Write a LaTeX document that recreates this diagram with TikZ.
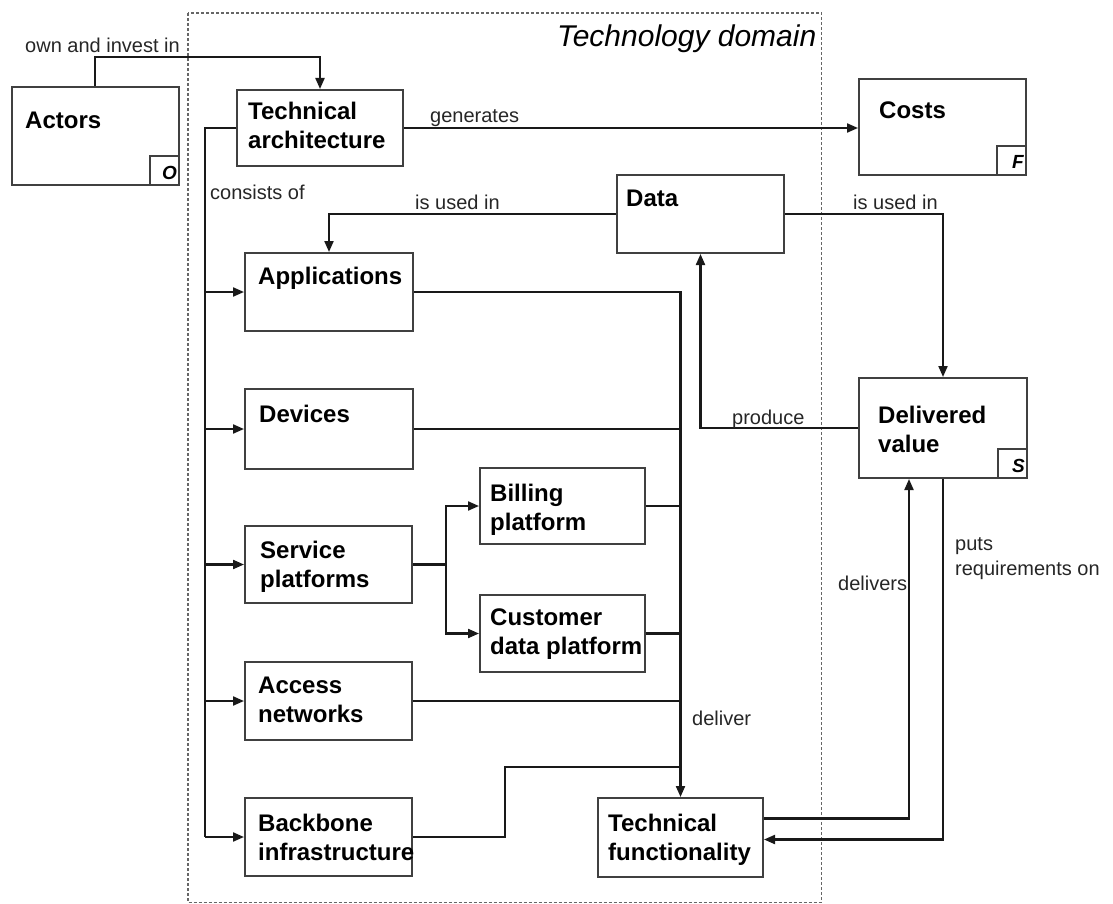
\documentclass[tikz,border=0pt]{standalone}
\usepackage{fontspec}
\setmainfont{Liberation Sans}
\usetikzlibrary{arrows.meta}

\begin{document}
\begin{tikzpicture}[x=1pt,y=-1pt,
  box/.style={draw=black!75, line width=2pt, fill=white, inner sep=0, anchor=north west},
  boxtext/.style={font=\fontsize{24}{29}\selectfont\bfseries, anchor=north west, align=left, inner sep=0},
  lbl/.style={font=\fontsize{20}{25}\selectfont, anchor=base west, inner sep=0, align=left, text=black!85},
  corner/.style={font=\fontsize{19}{19}\selectfont\bfseries\itshape, anchor=base east, inner sep=0},
  cornerbox/.style={draw=black!75, line width=2pt, fill=white, inner sep=0, minimum size=29pt, anchor=south east},
  conn/.style={line width=2.1pt, draw=black!90},
  arr/.style={conn, -{Triangle[length=11pt,width=9pt]}},
  domainframe/.style={draw=black!60, line width=1.7pt, dash pattern=on 3pt off 2pt}
]
\useasboundingbox (0,0) rectangle (1113,904);

% technology domain frame
\node[draw=none, inner sep=0, minimum width=633pt, minimum height=889pt, anchor=north west] (dom) at (188,13) {};
\draw[domainframe] (dom.north west) rectangle (dom.south east);
\node[font=\fontsize{30}{30}\selectfont\itshape, anchor=base west, inner sep=0] (domtitle) at (557,47) {Technology domain};

% boxes
\node[box, minimum width=167pt, minimum height=98pt] (actors) at (11,86) {};
\node[box, minimum width=166pt, minimum height=76pt] (ta) at (236,89) {};
\node[box, minimum width=167pt, minimum height=96pt] (costs) at (858,78) {};
\node[box, minimum width=167pt, minimum height=78pt] (data) at (616,174) {};
\node[box, minimum width=168pt, minimum height=78pt] (app) at (244,252) {};
\node[box, minimum width=168pt, minimum height=80pt] (dev) at (244,388) {};
\node[box, minimum width=167pt, minimum height=77pt] (sp) at (244,525) {};
\node[box, minimum width=165pt, minimum height=76pt] (bill) at (479,467) {};
\node[box, minimum width=165pt, minimum height=77pt] (cust) at (479,594) {};
\node[box, minimum width=167pt, minimum height=78pt] (acc) at (244,661) {};
\node[box, minimum width=167pt, minimum height=78pt] (bb) at (244,797) {};
\node[box, minimum width=165pt, minimum height=79pt] (tf) at (597,797) {};
\node[box, minimum width=168pt, minimum height=100pt] (dv) at (858,377) {};

% corner tags
\node[cornerbox] (actors-c) at (actors.south east) {};
\node[corner] (actors-l) at ([shift={(-3,-7)}]actors.south east) {O};
\node[cornerbox] (costs-c) at (costs.south east) {};
\node[corner] (costs-l) at ([shift={(-3,-7)}]costs.south east) {F};
\node[cornerbox] (dv-c) at (dv.south east) {};
\node[corner] (dv-l) at ([shift={(-3,-7)}]dv.south east) {S};

% box texts
\node[boxtext] (actors-t) at ([shift={(14,26)}]actors.north west) {Actors};
\node[boxtext] (ta-t) at ([shift={(12,13)}]ta.north west) {Technical\\architecture};
\node[boxtext] (costs-t) at ([shift={(21,24)}]costs.north west) {Costs};
\node[boxtext] (data-t) at ([shift={(10,16)}]data.north west) {Data};
\node[boxtext] (app-t) at ([shift={(14,15)}]app.north west) {Applications};
\node[boxtext] (dev-t) at ([shift={(15,17)}]dev.north west) {Devices};
\node[boxtext] (sp-t) at ([shift={(16,16)}]sp.north west) {Service\\platforms};
\node[boxtext] (bill-t) at ([shift={(11,17)}]bill.north west) {Billing\\platform};
\node[boxtext] (cust-t) at ([shift={(11,15)}]cust.north west) {Customer\\data platform};
\node[boxtext] (acc-t) at ([shift={(14,16)}]acc.north west) {Access\\networks};
\node[boxtext] (bb-t) at ([shift={(14,17)}]bb.north west) {Backbone\\infrastructure};
\node[boxtext] (tf-t) at ([shift={(11,17)}]tf.north west) {Technical\\functionality};
\node[boxtext] (dv-t) at ([shift={(20,29)}]dv.north west) {Delivered\\value};

% actors own the technical architecture
\draw[arr] ([xshift=84pt]actors.north west) -- ++(0,-29) -| (ta.north);
\node[lbl] (l-own) at (25,53) {own and invest in};

% costs
\draw[arr] (ta.east) -- (ta.east -| costs.west);
\node[lbl] (l-gen) at (430,123) {generates};

% composition bus
\coordinate (bus) at ([xshift=-31pt]ta.west);
\draw[conn] (ta.west) -- (bus) -- (bus |- bb.west);
\draw[arr] (bus |- app.west) -- (app.west);
\draw[arr] (bus |- dev.west) -- (dev.west);
\draw[arr] (bus |- sp.west) -- (sp.west);
\draw[arr] (bus |- acc.west) -- (acc.west);
\draw[arr] (bus |- bb.west) -- (bb.west);
\node[lbl] (l-cons) at (210,200) {consists of};

% service platforms split
\coordinate (sj) at ([xshift=33pt]sp.east);
\draw[conn, line width=2.8pt] (sp.east) -- (sj);
\draw[arr] (sj) |- (bill.west);
\draw[arr] (sj) |- (cust.west);

% data usage
\draw[arr] (data.west) -| (app.north);
\node[lbl] (l-used1) at (415,209) {is used in};
\draw[arr] (data.east) -| (dv.north);
\node[lbl] (l-used2) at (853,209) {is used in};
\draw[arr] (dv.west) -| (data.south);
\node[lbl] (l-prod) at (732,424) {produce};

% delivery bus into technical functionality
\draw[arr] (app.east) -| (tf.north);
\draw[conn] (dev.east) -- (dev.east -| tf.north);
\draw[conn] (bill.east) -- (bill.east -| tf.north);
\draw[conn] (cust.east) -- (cust.east -| tf.north);
\draw[conn] (acc.east) -- (acc.east -| tf.north);
\draw[conn] (bb.east) -- ++(92,0) |- ([yshift=30pt]tf.north);
\node[lbl] (l-deliver) at (692,725) {deliver};

% technical functionality and delivered value
\draw[arr] ([yshift=19pt]tf.east) -| ([xshift=-34pt]dv.south);
\node[lbl] (l-delivers) at (838,590) {delivers};
\draw[arr] (dv.south) |- ([yshift=-2pt]tf.east);
\node[lbl] (l-puts) at (955,575) {puts\\requirements on};
\end{tikzpicture}
\end{document}
